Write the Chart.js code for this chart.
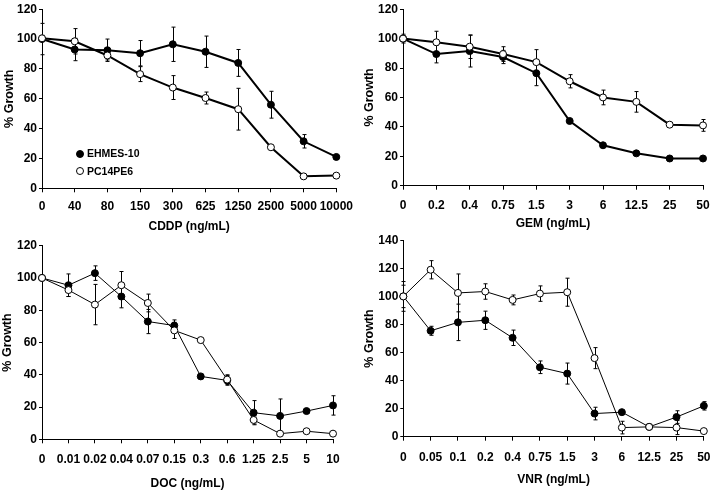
<!DOCTYPE html>
<html>
<head>
<meta charset="utf-8">
<title>% Growth vs drug concentration</title>
<script src="https://cdn.jsdelivr.net/npm/chart.js@4.4.1/dist/chart.umd.min.js"></script>
<style>
  html, body { margin: 0; padding: 0; background: #fff; }
  #page { position: relative; width: 720px; height: 491px; overflow: hidden; }
  #page canvas { position: absolute; }
  .legend { position: absolute; left: 76px; font: bold 10.5px Arial, 'Liberation Sans', sans-serif; color: #000; }
  .legend div { height: 17.5px; line-height: 17.5px; white-space: nowrap; }
  .legend i { display: inline-block; width: 8px; height: 8px; border: 1px solid #000; border-radius: 50%;
              box-sizing: border-box; margin-right: 3px; vertical-align: -0.5px; }
</style>
</head>
<body>
<div id="page">
  <canvas id="cddpChart" width="360" height="240" style="left:0;top:0"></canvas>
  <canvas id="gemChart" width="360" height="240" style="left:360px;top:0"></canvas>
  <canvas id="docChart" width="360" height="263" style="left:0;top:228px"></canvas>
  <canvas id="vnrChart" width="360" height="263" style="left:360px;top:228px"></canvas>
  <div class="legend" style="top:145px">
    <div><i style="background:#000"></i>EHMES-10</div>
    <div><i style="background:#fff"></i>PC14PE6</div>
  </div>
</div>
<script>
// Growth curves of two cell lines against four drugs (mean +/- error).

const CDDP_LABELS = ['0', '40', '80', '150', '300', '625', '1250', '2500', '5000', '10000'];
const CDDP_EHMES = [100, 93, 92.5, 90.5, 96.5, 91.5, 84, 56, 31.5, 21];
const CDDP_EHMES_ERR = [10.5, 7.5, 7.5, 8.5, 11.5, 10.5, 9, 9, 4.5, 1];
const CDDP_PC14 = [100.5, 98.5, 89, 76.5, 67.5, 60.5, 53, 27.5, 8, 8.5];
const CDDP_PC14_ERR = [2, 8.5, 3, 5, 8, 4, 14, 1, 0.5, 0];

const GEM_LABELS = ['0', '0.2', '0.4', '0.75', '1.5', '3', '6', '12.5', '25', '50'];
const GEM_EHMES = [100, 89.5, 91.5, 87.5, 76.5, 44, 27.5, 22, 18.5, 18.5];
const GEM_EHMES_ERR = [2, 6, 10.8, 4.5, 8.5, 1, 1, 1, 1, 1];
const GEM_PC14 = [100, 97.5, 94.5, 89.5, 84, 71, 60, 57, 41.5, 41];
const GEM_PC14_ERR = [3, 7.5, 8, 5, 8.5, 4.5, 5, 7, 1, 4];

const DOC_LABELS = ['0', '0.01', '0.02', '0.04', '0.07', '0.15', '0.3', '0.6', '1.25', '2.5', '5', '10'];
const DOC_EHMES = [100, 95.5, 103, 88.5, 73, 70.5, 39, 36.5, 16.5, 14.5, 17.5, 21];
const DOC_EHMES_ERR = [1, 7, 4.5, 7, 7.5, 3.5, 1, 3, 7.5, 10.5, 1, 6];
const DOC_PC14 = [100, 92.5, 83.5, 95.5, 84.5, 67.5, 61.5, 37, 12, 3.5, 5, 3.5];
const DOC_PC14_ERR = [1, 4, 12.5, 8.5, 5.5, 5, 1, 3, 2.5, 0.5, 0.5, 0.5];

const VNR_LABELS = ['0', '0.05', '0.1', '0.2', '0.4', '0.75', '1.5', '3', '6', '12.5', '25', '50'];
const VNR_EHMES = [100, 75.5, 81.5, 83, 70.5, 49.5, 45, 16.5, 17.5, 7, 14, 22];
const VNR_EHMES_ERR = [10.6, 3.2, 13, 6.5, 5.5, 4.5, 7.5, 4.5, 1, 1.5, 4.5, 3];
const VNR_PC14 = [100, 119, 102.5, 103.5, 97.5, 102, 103, 56, 6.5, 7, 6.5, 4];
const VNR_PC14_ERR = [8, 6.5, 13.5, 5.5, 3.5, 5.5, 10, 7.5, 4.5, 1, 5, 1];

Chart.defaults.font.family = "Arial, 'Liberation Sans', sans-serif";
Chart.defaults.font.weight = 'bold';
Chart.defaults.font.size = 12;
Chart.defaults.color = '#000';

// draws vertical error bars with small caps, under the lines and points
const errorBars = {
    id: 'errorBars',
    beforeDatasetsDraw(chart) {
        const ctx = chart.ctx;
        const yScale = chart.scales.y;
        ctx.save();
        ctx.strokeStyle = '#000';
        ctx.lineWidth = 1;
        chart.data.datasets.forEach((ds, i) => {
            const meta = chart.getDatasetMeta(i);
            meta.data.forEach((pt, j) => {
                const e = ds.errors[j];
                if (!e) return;
                const v = ds.data[j];
                const top = yScale.getPixelForValue(v + e);
                const bot = yScale.getPixelForValue(v - e);
                const x = Math.round(pt.x) + 0.5;
                ctx.beginPath();
                ctx.moveTo(x, top);
                ctx.lineTo(x, bot);
                ctx.moveTo(x - 2, top);
                ctx.lineTo(x + 2, top);
                ctx.moveTo(x - 2, bot);
                ctx.lineTo(x + 2, bot);
                ctx.stroke();
            });
        });
        ctx.restore();
    }
};

function growthChart(id, labels, ehmes, ehmesErr, pc14, pc14Err, o) {
    const series = (data, errors, fill, order) => ({
        data: data,
        errors: errors,
        order: order,
        borderColor: '#000',
        borderWidth: o.lineWidth,
        pointRadius: 3.5,
        pointBorderWidth: 1,
        pointBorderColor: '#000',
        pointBackgroundColor: fill,
        tension: 0,
    });

    return new Chart(document.getElementById(id), {
        type: 'line',
        data: {
            labels: labels,
            datasets: [
                Object.assign({ label: 'EHMES-10' }, series(ehmes, ehmesErr, '#000', 1)),
                Object.assign({ label: 'PC14PE6' }, series(pc14, pc14Err, '#fff', 0)),
            ],
        },
        options: {
            responsive: false,
            animation: false,
            devicePixelRatio: 1,
            layout: { padding: { top: o.top, right: o.right, left: 0, bottom: 0 } },
            plugins: { legend: { display: false }, tooltip: { enabled: false } },
            scales: {
                x: {
                    type: 'category',
                    offset: false,
                    grid: { drawOnChartArea: false, drawTicks: true, tickLength: 4, color: '#000' },
                    border: { color: '#000', width: 1 },
                    ticks: { padding: o.xTickPad, maxRotation: 0, autoSkip: false },
                    title: { display: true, text: o.title, padding: { top: 0, bottom: o.xTitlePad } },
                    afterFit: s => { s.height = o.xHeight; },
                },
                y: {
                    min: 0,
                    max: o.yMax,
                    grid: { drawOnChartArea: false, drawTicks: true, tickLength: 3, color: '#000' },
                    border: { color: '#000', width: 1 },
                    ticks: { stepSize: 20, padding: 2 },
                    title: { display: true, text: '% Growth', font: { size: 12.5 }, padding: { top: o.yTitlePad, bottom: 0 } },
                    afterFit: s => { s.width = o.yWidth; },
                },
            },
        },
        plugins: [errorBars],
    });
}

growthChart('cddpChart', CDDP_LABELS, CDDP_EHMES, CDDP_EHMES_ERR, CDDP_PC14, CDDP_PC14_ERR, {
    title: 'CDDP (ng/mL)', yMax: 120, lineWidth: 2,
    top: 8, right: 22, yWidth: 42, xHeight: 51.7, xTickPad: 7, xTitlePad: 6, yTitlePad: 2,
});
growthChart('gemChart', GEM_LABELS, GEM_EHMES, GEM_EHMES_ERR, GEM_PC14, GEM_PC14_ERR, {
    title: 'GEM (ng/mL)', yMax: 120, lineWidth: 2,
    top: 6.7, right: 17, yWidth: 43, xHeight: 54.3, xTickPad: 8.5, xTitlePad: 9, yTitlePad: 2,
});
growthChart('docChart', DOC_LABELS, DOC_EHMES, DOC_EHMES_ERR, DOC_PC14, DOC_PC14_ERR, {
    title: 'DOC (ng/mL)', yMax: 120, lineWidth: 1,
    top: 17.7, right: 27, yWidth: 42, xHeight: 51.7, xTickPad: 9.5, xTitlePad: 0, yTitlePad: 0,
});
growthChart('vnrChart', VNR_LABELS, VNR_EHMES, VNR_EHMES_ERR, VNR_PC14, VNR_PC14_ERR, {
    title: 'VNR (ng/mL)', yMax: 140, lineWidth: 1,
    top: 12.3, right: 10.7, yWidth: 43.3, xHeight: 54.3, xTickPad: 9.5, xTitlePad: 4, yTitlePad: 2,
});
</script>
</body>
</html>
